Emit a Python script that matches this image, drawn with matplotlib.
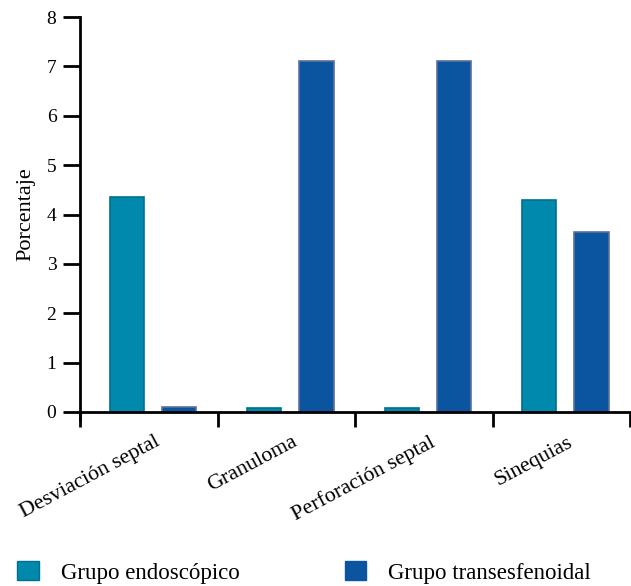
import matplotlib
matplotlib.use('Agg')
import matplotlib.pyplot as plt
import numpy as np
from matplotlib.patches import Patch

# Data
categorias = ['Desviación septal', 'Granuloma', 'Perforación septal', 'Sinequias']
endoscopico = [4.35, 0.08, 0.08, 4.3]
transesfenoidal = [0.1, 7.1, 7.1, 3.65]
series = ['Grupo endoscópico', 'Grupo transesfenoidal']

plt.rcParams['font.family'] = ['Liberation Serif', 'DejaVu Serif']

col_endo = '#0088ad'
col_trans = '#0b54a0'

fig = plt.figure(figsize=(6.31, 5.86), dpi=100)
ax = fig.add_axes([80 / 631, 1 - 412 / 586, 550 / 631, 395 / 586])

x = np.arange(len(categorias))
w = 0.25
ax.bar(x - 0.16, endoscopico, w, color=col_endo, edgecolor='#00708f', linewidth=1.2)
ax.bar(x + 0.22, transesfenoidal, w, color=col_trans, edgecolor='#5d6f9c', linewidth=1.2)

ax.set_xlim(-0.5, 3.5)
ax.set_ylim(0, 8)
ax.set_yticks(range(0, 9))
ax.tick_params(axis='y', direction='out', length=12, width=2, labelsize=14, pad=5)

# category separators as ticks
ax.set_xticks(np.arange(-0.5, 4.0, 1.0))
ax.set_xticklabels([])
ax.tick_params(axis='x', direction='out', length=11, width=2)
for i, c in enumerate(categorias):
    ax.text(i + 0.04, -0.42, c, rotation=28, ha='right', va='top',
            rotation_mode='anchor', fontsize=15.8, transform=ax.transData)

ax.spines['top'].set_visible(False)
ax.spines['right'].set_visible(False)
ax.spines['left'].set_linewidth(2)
ax.spines['bottom'].set_linewidth(2)
ax.spines['left'].set_bounds(-0.17, 8)
ax.set_ylabel('Porcentaje', fontsize=16, labelpad=8)

handles = [Patch(facecolor=col_endo, edgecolor='#00708f'),
           Patch(facecolor=col_trans, edgecolor='#0b54a0')]
fig.legend(handles, series, loc='lower left', bbox_to_anchor=(-0.005, -0.031),
           ncol=2, frameon=False, fontsize=16.5, handlelength=0.92,
           handleheight=0.92, handletextpad=0.96, columnspacing=4.6)

fig.savefig('out.png', dpi=100)
